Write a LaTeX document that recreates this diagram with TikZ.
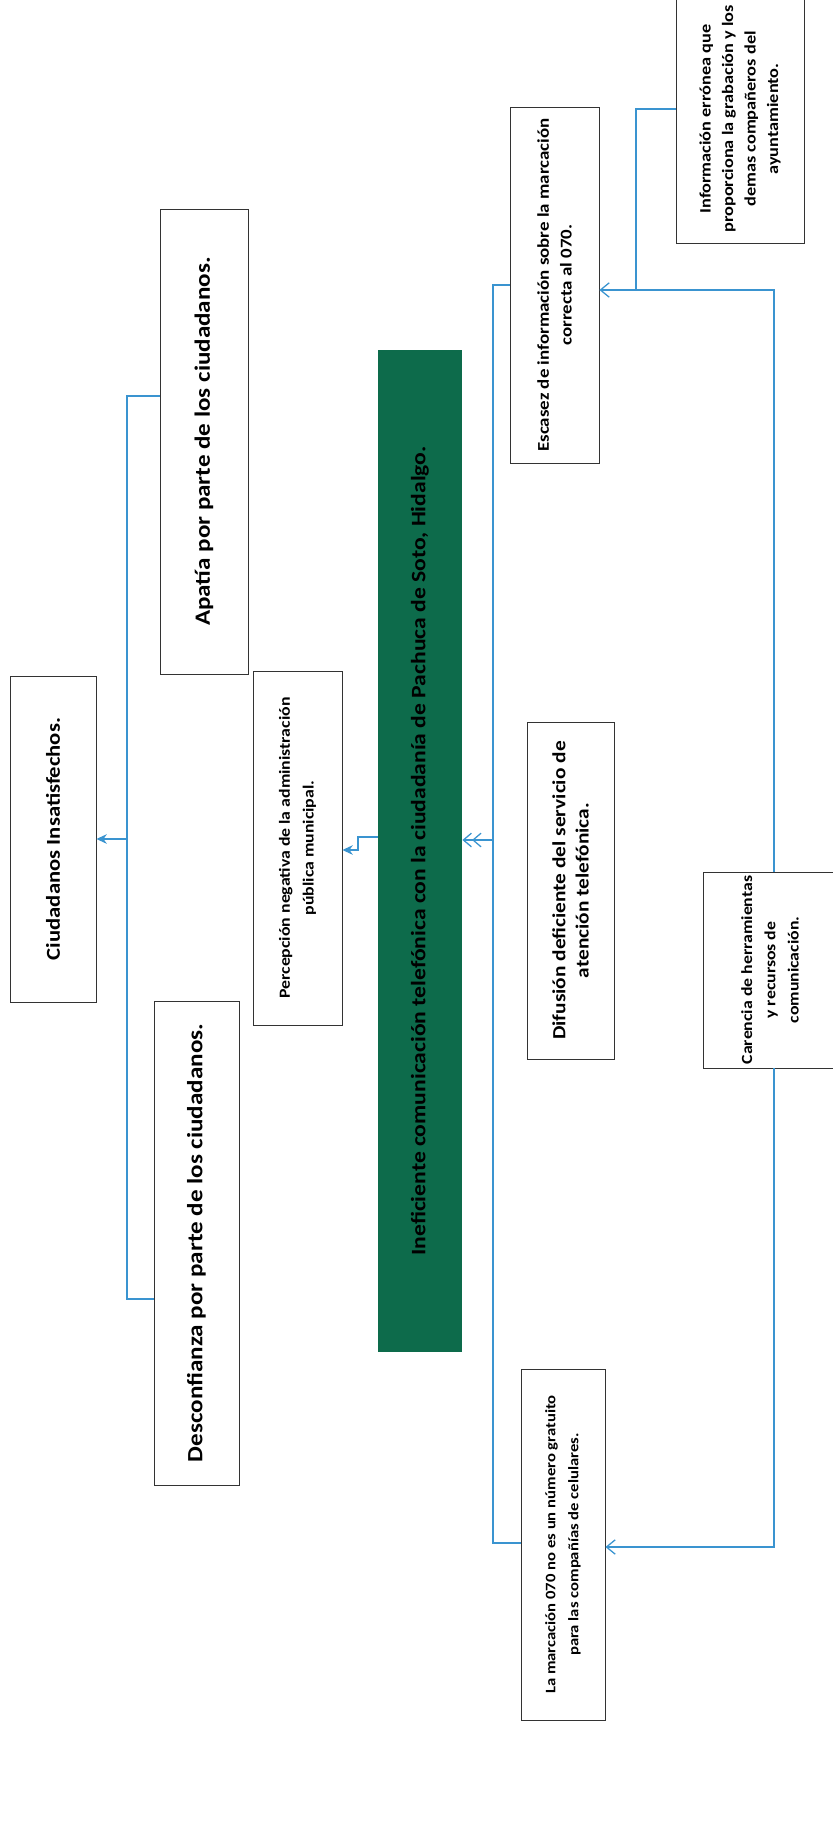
\documentclass[tikz,border=0pt]{standalone}
\usepackage{fontspec}
\setmainfont[FakeStretch=1.15]{Carlito}
\usetikzlibrary{arrows.meta,calc}
\definecolor{probgreen}{HTML}{0D6B4B}
\definecolor{linkblue}{HTML}{3A94D0}

\begin{document}
\begin{tikzpicture}[x=0.025cm, y=-0.025cm,
  box/.style={draw=black!80, line width=0.6pt, fill=white, rotate=90, align=center, inner sep=2pt},
  bigtxt/.style={font=\fontsize{15.5}{19}\selectfont\bfseries},
  midtxt/.style={font=\fontsize{11.7}{16.3}\selectfont\bfseries},
  link/.style={draw=linkblue, line width=0.9pt},
  openarrow/.style={link, -{Straight Barb[length=2.2mm,width=3.6mm]}},
  fillarrow/.style={link, -{Stealth[length=2.6mm,width=2.4mm]}},
  dblarrow/.style={link, -{Straight Barb[length=2mm,width=3.4mm]Straight Barb[length=2mm,width=3.4mm]}}]
  \useasboundingbox (0,0) rectangle (833,1826);
  \clip (0,0) rectangle (833,1826);
  \fill[white] (0,0) rectangle (833,1826);

  % effects
  \node[box, bigtxt, font=\fontsize{14}{17}\selectfont\bfseries, minimum width=8.15cm, minimum height=2.15cm] (ciud) at (53,839) {Ciudadanos Insatisfechos.};
  \node[box, bigtxt, minimum width=11.625cm, minimum height=2.2cm] (apat) at (204,441.5) {Apatía por parte de los ciudadanos.};
  \node[box, bigtxt, minimum width=12.1cm, minimum height=2.125cm] (desc) at (196.5,1243) {Desconfianza por parte de los ciudadanos.};
  \node[box, font=\fontsize{11}{17}\selectfont\bfseries, minimum width=8.85cm, minimum height=2.225cm] (perc) at (297.5,848)
    {Percepción negativa de la administración\\pública municipal.};

  % central problem
  \node[box, draw=none, fill=probgreen, font=\fontsize{14.6}{17}\selectfont\bfseries, minimum width=25.05cm, minimum height=2.1cm] (prob) at (420,851)
    {Ineficiente comunicación telefónica con la ciudadanía de Pachuca de Soto, Hidalgo.};

  % causes
  \node[box, midtxt, minimum width=8.9cm, minimum height=2.225cm] (esca) at (554.5,285)
    {Escasez de información sobre la marcación\\correcta al 070.};
  \node[box, font=\fontsize{13.2}{16.5}\selectfont\bfseries, minimum width=8.425cm, minimum height=2.175cm] (difu) at (570.5,890.5)
    {Difusión deficiente del servicio de\\atención telefónica.};
  \node[box, font=\fontsize{10.3}{16.3}\selectfont\bfseries, minimum width=8.775cm, minimum height=2.1cm] (marc) at (563,1544.5)
    {La marcación 070 no es un número gratuito\\para las compañías de celulares.};
  \node[box, font=\fontsize{11.3}{16}\selectfont\bfseries, minimum width=6.2cm, minimum height=3.2cm] (info) at (740,119)
    {Información errónea que\\proporciona la grabación y los\\demas compañeros del\\ayuntamiento.};
  \node[box, font=\fontsize{11}{16.5}\selectfont\bfseries, minimum width=4.9cm, minimum height=3.35cm] (care) at (770,970)
    {Carencia de herramientas\\y recursos de\\comunicación.};

  % links on the effect side
  \coordinate (lt1) at (127,396);
  \coordinate (lt2) at (127,839);
  \coordinate (lt3) at (127,1299);
  \draw[link] (apat.north |- lt1) -- (lt1) -- (lt3) -- (desc.north |- lt3);
  \draw[fillarrow] (lt2) -- (ciud.south |- lt2);
  \coordinate (pk1) at (358,837);
  \coordinate (pk2) at (358,850);
  \draw[fillarrow] (prob.north |- pk1) -- (pk1) -- (pk2) -- (perc.south |- pk2);

  % links on the cause side
  \coordinate (rt1) at (493,285);
  \coordinate (rt2) at (493,840);
  \coordinate (rt3) at (493,1543);
  \draw[link] (esca.north |- rt1) -- (rt1) -- (rt3) -- (marc.north |- rt3);
  \draw[dblarrow] (rt2) -- (prob.south |- rt2);
  \coordinate (ft1) at (774,290);
  \coordinate (ft2) at (774,1547);
  \coordinate (ij) at (636,290);
  \coordinate (ik) at (636,109);
  \draw[openarrow] (care.east -| ft1) -- (ft1) -- (esca.south |- ft1);
  \draw[openarrow] (care.west -| ft2) -- (ft2) -- (marc.south |- ft2);
  \draw[link] (info.north |- ik) -- (ik) -- (ij);
\end{tikzpicture}
\end{document}
